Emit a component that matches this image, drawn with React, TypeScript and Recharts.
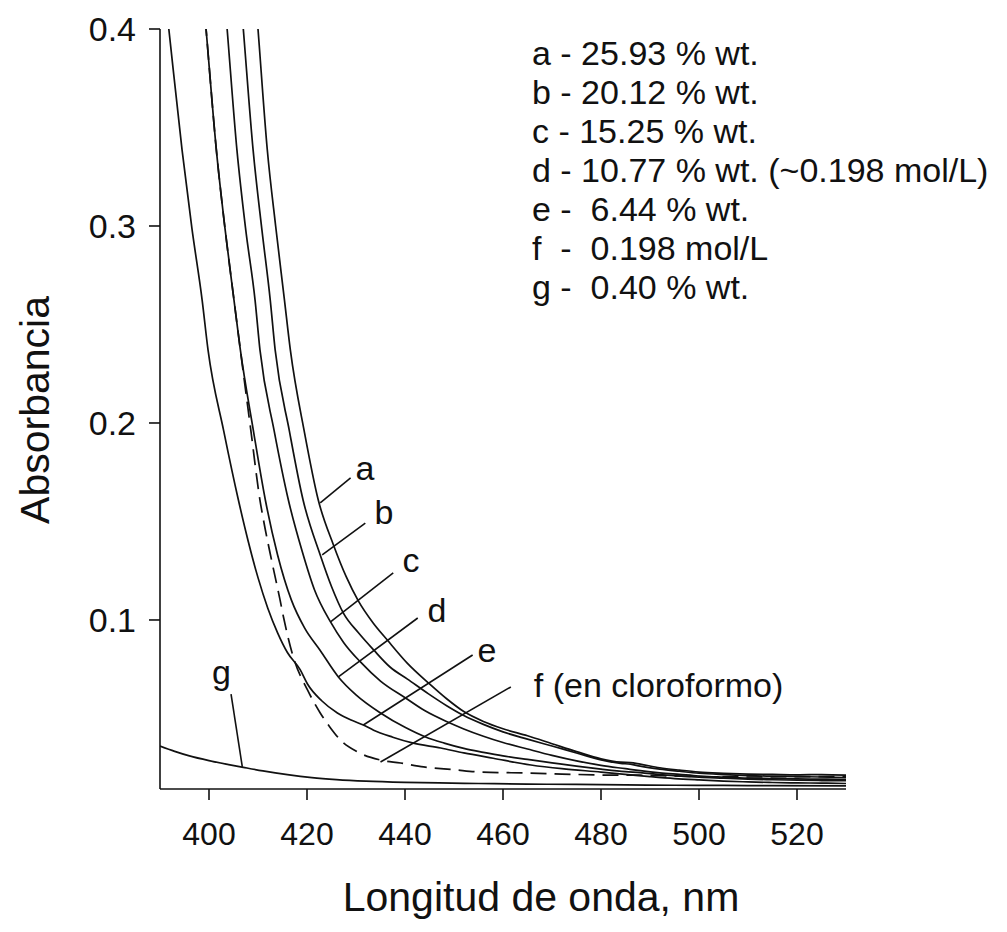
import React from 'react';
import { LineChart, Line, XAxis, YAxis, ReferenceLine, ReferenceDot } from 'recharts';

const FONT = '"Liberation Sans", Arial, Helvetica, sans-serif';
const INK = '#111';

// Axis ticks
const xTicks = [400, 420, 440, 460, 480, 500, 520];
const yTicks = [0.1, 0.2, 0.3, 0.4];

// Curve a - 25.93 % wt.
const aWl = [408.6, 410.0, 411.9, 413.6, 415.4, 416.6, 419.5, 422.3, 425.4, 428.0, 430.5, 433.5, 436.4, 440.5, 444.8, 448.5, 452.0, 456, 460, 465, 470, 475, 480, 484, 486, 488, 492, 496, 500, 505, 510, 515, 520, 525, 530];
const aAbs = [0.445, 0.4, 0.3386, 0.3, 0.2624, 0.2371, 0.195, 0.1609, 0.1381, 0.122, 0.1096, 0.0985, 0.0898, 0.078, 0.068, 0.06, 0.0535, 0.0485, 0.0448, 0.0412, 0.0372, 0.0332, 0.0295, 0.0278, 0.0276, 0.0268, 0.025, 0.0238, 0.0228, 0.0222, 0.0218, 0.0216, 0.0214, 0.0215, 0.0212];

// Curve b - 20.12 % wt.
const bWl = [405.6, 407.0, 409.0, 410.8, 412.5, 413.5, 416.4, 419.2, 422.7, 425.0, 427.4, 430.5, 433.6, 437, 440.5, 444.8, 448.5, 452, 456, 460, 465, 470, 475, 480, 484, 486, 488, 492, 496, 500, 505, 510, 515, 520, 525, 530];
const bAbs = [0.443, 0.4, 0.3386, 0.298, 0.2624, 0.2371, 0.196, 0.1609, 0.133, 0.117, 0.1036, 0.0935, 0.0848, 0.076, 0.07, 0.0625, 0.0565, 0.0515, 0.047, 0.0432, 0.0395, 0.036, 0.0325, 0.029, 0.0272, 0.0268, 0.0258, 0.0243, 0.0232, 0.0222, 0.0215, 0.021, 0.0207, 0.0205, 0.0203, 0.02];

// Curve c - 15.25 % wt.
const cWl = [402.3, 403.7, 405.7, 407.5, 409.4, 410.4, 413.3, 416.2, 419, 421.5, 424.8, 427.5, 430.9, 435, 440.1, 444, 448.7, 452, 456, 460, 465, 470, 475, 480, 485, 488, 492, 496, 500, 505, 510, 515, 520, 525, 530];
const cAbs = [0.443, 0.4, 0.3386, 0.298, 0.2624, 0.2371, 0.196, 0.1609, 0.135, 0.1155, 0.099, 0.0885, 0.0787, 0.069, 0.0604, 0.054, 0.0482, 0.0447, 0.041, 0.0378, 0.0345, 0.0313, 0.0285, 0.0262, 0.0245, 0.0235, 0.0224, 0.0216, 0.0208, 0.0202, 0.0197, 0.0195, 0.0193, 0.0192, 0.019];

// Curve d - 10.77 % wt.
const dWl = [398.0, 399.4, 401.5, 403.3, 405.1, 406.4, 409, 411.5, 414, 416.8, 419.5, 422.7, 426.4, 430, 435.0, 440, 444.2, 448, 452, 456, 460, 465, 470, 475, 480, 485, 488, 492, 496, 500, 505, 510, 515, 520, 525, 530];
const dAbs = [0.441, 0.4, 0.3386, 0.298, 0.2624, 0.2371, 0.197, 0.1609, 0.133, 0.1102, 0.096, 0.0845, 0.0711, 0.062, 0.0528, 0.0455, 0.0406, 0.0375, 0.0348, 0.0328, 0.031, 0.0292, 0.0275, 0.0258, 0.0243, 0.023, 0.0225, 0.0215, 0.0208, 0.0202, 0.0197, 0.0192, 0.0189, 0.0187, 0.0185, 0.0184];

// Curve e - 6.44 % wt.
const eWl = [390.0, 391.8, 394.5, 396.5, 398.6, 399.8, 403, 406.0, 408, 410, 412, 414, 416, 418.6, 420.1, 423, 426.2, 429, 431.5, 433.6, 437.5, 441.5, 447.3, 452, 458, 465.7, 472, 480, 486, 490, 495, 500, 505, 510, 515, 520, 525, 530];
const eAbs = [0.441, 0.4, 0.3386, 0.299, 0.2624, 0.2371, 0.196, 0.1609, 0.14, 0.1215, 0.106, 0.0935, 0.0835, 0.0748, 0.0675, 0.059, 0.0528, 0.0492, 0.0467, 0.044, 0.0405, 0.0376, 0.035, 0.0325, 0.0298, 0.0264, 0.0245, 0.0228, 0.0214, 0.0205, 0.0195, 0.0188, 0.0182, 0.0178, 0.0175, 0.0173, 0.0172, 0.017];

// Curve f - 0.198 mol/L (en cloroformo), dashed
const fWl = [398.0, 399.4, 401.5, 403.3, 405.1, 406.4, 408.5, 410.4, 411.1, 412.8, 414.5, 415.2, 417.2, 420.1, 422.7, 424.8, 426.8, 430.3, 435.0, 439.1, 443.8, 450, 455.4, 465.1, 472, 480, 488, 495, 500, 510, 520, 530];
const fAbs = [0.441, 0.4, 0.3386, 0.298, 0.2624, 0.2371, 0.197, 0.1609, 0.151, 0.13, 0.1102, 0.1015, 0.0812, 0.0645, 0.0528, 0.0452, 0.0391, 0.033, 0.0289, 0.0274, 0.0254, 0.024, 0.0228, 0.0223, 0.0218, 0.0213, 0.0212, 0.0208, 0.0205, 0.0203, 0.0205, 0.0205];

// Curve g - 0.40 % wt.
const gWl = [390, 393, 396, 400, 404, 407, 411, 416, 421, 426, 432, 440, 447, 455, 465, 475, 485, 495, 505, 515, 530];
const gAbs = [0.036, 0.0333, 0.031, 0.0286, 0.0266, 0.0252, 0.0234, 0.0215, 0.02, 0.019, 0.0182, 0.0176, 0.0173, 0.017, 0.0167, 0.0165, 0.0163, 0.0161, 0.016, 0.0159, 0.0158];

// Curve annotations (label anchor, leader line start and end)
const curveLabels = ['a', 'b', 'c', 'd', 'e', 'f (en cloroformo)', 'g'];
const labelWl = [429.9, 433.8, 439.5, 444.6, 454.8, 466.3, 400.6];
const labelAbs = [0.1711, 0.1487, 0.1244, 0.099, 0.0787, 0.0609, 0.0675];
const leaderFromWl = [428.9, 431.9, 437.6, 442.6, 453.8, 461.6, 404.5];
const leaderFromAbs = [0.1721, 0.1492, 0.1239, 0.101, 0.0822, 0.066, 0.0624];
const leaderToWl = [422.7, 423.1, 424.8, 426.4, 431.5, 435.0, 406.8];
const leaderToAbs = [0.1594, 0.133, 0.099, 0.0711, 0.0467, 0.0279, 0.0254];

const legendLines = [
  'a - 25.93 % wt.',
  'b - 20.12 % wt.',
  'c - 15.25 % wt.',
  'd - 10.77 % wt. (~0.198 mol/L)',
  'e -  6.44 % wt.',
  'f  -  0.198 mol/L',
  'g -  0.40 % wt.',
];

const zip = (wl: number[], abs: number[]) => wl.map((x, i) => ({ x, y: abs[i] }));

const series = [
  { key: 'a', data: zip(aWl, aAbs), dash: undefined as string | undefined },
  { key: 'b', data: zip(bWl, bAbs), dash: undefined },
  { key: 'c', data: zip(cWl, cAbs), dash: undefined },
  { key: 'd', data: zip(dWl, dAbs), dash: undefined },
  { key: 'e', data: zip(eWl, eAbs), dash: undefined },
  { key: 'f', data: zip(fWl, fAbs), dash: '16 8' },
  { key: 'g', data: zip(gWl, gAbs), dash: undefined },
];

const makeTextLabel = (text: string) => (props: any) => {
  const vb = props.viewBox || {};
  return (
    <text x={vb.x} y={vb.y} fontSize={34} fontFamily={FONT} fill={INK} style={{ whiteSpace: 'pre' }}>
      {text}
    </text>
  );
};

const XTitle = (props: any) => {
  const vb = props.viewBox;
  return (
    <text x={vb.x + 381} y={vb.y + 122} textAnchor="middle" fontSize={41} fontFamily={FONT} fill={INK}>
      Longitud de onda, nm
    </text>
  );
};

const YTitle = (props: any) => {
  const vb = props.viewBox;
  const cx = vb.x + 41;
  const cy = vb.y + 381;
  return (
    <text x={cx} y={cy} transform={`rotate(-90 ${cx} ${cy})`} textAnchor="middle" fontSize={41} fontFamily={FONT} fill={INK}>
      Absorbancia
    </text>
  );
};

export default function App() {
  return (
    <div style={{ position: 'relative', width: 1000, height: 924, fontFamily: FONT, background: '#fff' }}>
      <LineChart width={1000} height={924} margin={{ top: 21, right: 162, bottom: 0, left: 0 }}>
        <XAxis
          type="number"
          dataKey="x"
          domain={[390, 530]}
          allowDataOverflow
          ticks={xTicks}
          tickSize={11}
          tickMargin={22}
          height={143}
          axisLine={{ stroke: INK, strokeWidth: 1.6 }}
          tickLine={{ stroke: INK, strokeWidth: 1.6 }}
          tick={{ fontSize: 32, fill: INK, fontFamily: FONT }}
          label={<XTitle />}
        />
        <YAxis
          type="number"
          dataKey="y"
          domain={[0.0142, 0.4]}
          allowDataOverflow
          ticks={yTicks}
          tickFormatter={(v: number) => v.toFixed(1)}
          tickSize={11}
          tickMargin={13}
          width={152}
          axisLine={{ stroke: INK, strokeWidth: 1.6 }}
          tickLine={{ stroke: INK, strokeWidth: 1.6 }}
          tick={{ fontSize: 34, fill: INK, fontFamily: FONT }}
          label={<YTitle />}
        />
        {series.map((s) => (
          <Line
            key={s.key}
            data={s.data}
            dataKey="y"
            type="monotone"
            stroke={INK}
            strokeWidth={1.7}
            strokeDasharray={s.dash}
            dot={false}
            activeDot={false}
            isAnimationActive={false}
          />
        ))}
        {curveLabels.map((t, i) => (
          <ReferenceLine
            key={'lead' + i}
            segment={[
              { x: leaderFromWl[i], y: leaderFromAbs[i] },
              { x: leaderToWl[i], y: leaderToAbs[i] },
            ]}
            stroke={INK}
            strokeWidth={1.6}
          />
        ))}
        {curveLabels.map((t, i) => (
          <ReferenceDot
            key={'lab' + i}
            x={labelWl[i]}
            y={labelAbs[i]}
            r={0}
            fill="none"
            stroke="none"
            label={makeTextLabel(t)}
          />
        ))}
      </LineChart>
      <div
        style={{
          position: 'absolute',
          left: 524,
          top: 26,
          fontSize: 34,
          lineHeight: '39px',
          whiteSpace: 'pre',
          color: INK,
          fontFamily: FONT,
        }}
      >
        {legendLines.map((l) => (
          <div key={l}>{l}</div>
        ))}
      </div>
    </div>
  );
}
